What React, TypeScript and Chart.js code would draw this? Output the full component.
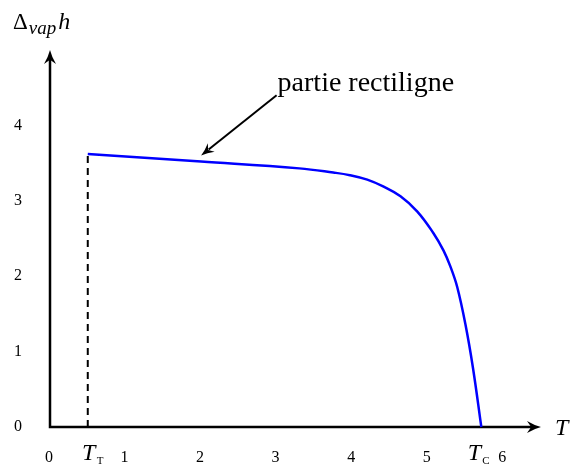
import React, { useEffect, useRef } from "react";
import { Chart, registerables } from "chart.js";

Chart.register(...registerables);

// Vaporisation enthalpy vs temperature, triple point to critical point
const curveT = [0.5, 2.0, 3.3, 3.75, 3.97, 4.2, 4.41, 4.64, 4.86, 5.07, 5.21, 5.3, 5.39, 5.5, 5.6, 5.71];
const curveH = [3.62, 3.52, 3.43, 3.375, 3.34, 3.28, 3.19, 3.06, 2.86, 2.58, 2.34, 2.13, 1.86, 1.36, 0.78, 0];

const tripleT = 0.5;
const tripleH = 3.62;
const criticalT = 5.71;

const xTicks = [0, 1, 2, 3, 4, 5, 6];
const yTicks = [0, 1, 2, 3, 4];

const xMax = 6.5;
const yMax = 5;

const annotationText = "partie rectiligne";
const annotationTail = { x: 3.0, y: 4.4 };
const annotationHead = { x: 2.0, y: 3.6 };

const SERIF = '"Liberation Serif", "DejaVu Serif", serif';

function arrowHead(ctx: CanvasRenderingContext2D, x: number, y: number, angle: number, len = 14, half = 6) {
  ctx.save();
  ctx.translate(x, y);
  ctx.rotate(angle);
  ctx.beginPath();
  ctx.moveTo(0, 0);
  ctx.quadraticCurveTo(-len * 0.5, -half * 0.3, -len, -half);
  ctx.lineTo(-len * 0.7, 0);
  ctx.lineTo(-len, half);
  ctx.quadraticCurveTo(-len * 0.5, half * 0.3, 0, 0);
  ctx.closePath();
  ctx.fill();
  ctx.restore();
}

const decorations = {
  id: "decorations",
  beforeDatasetsDraw(chart: any) {
    const ctx: CanvasRenderingContext2D = chart.ctx;
    const xs = chart.scales.x;
    const ys = chart.scales.y;
    const x0 = xs.getPixelForValue(0);
    const y0 = ys.getPixelForValue(0);
    const xEnd = xs.getPixelForValue(xMax);
    const yEnd = ys.getPixelForValue(yMax);
    ctx.save();
    ctx.strokeStyle = "#000";
    ctx.fillStyle = "#000";
    ctx.lineWidth = 2.5;
    ctx.beginPath();
    ctx.moveTo(x0, yEnd + 6);
    ctx.lineTo(x0, y0);
    ctx.lineTo(xEnd - 6, y0);
    ctx.stroke();
    arrowHead(ctx, xEnd, y0, 0);
    arrowHead(ctx, x0, yEnd, -Math.PI / 2);

    // tick labels
    ctx.font = `16px ${SERIF}`;
    ctx.textAlign = "center";
    ctx.textBaseline = "middle";
    xTicks.forEach((t) => ctx.fillText(String(t), xs.getPixelForValue(t) - 1, y0 + 31));
    yTicks.forEach((t) => ctx.fillText(String(t), x0 - 32, ys.getPixelForValue(t)));

    // axis titles
    ctx.textAlign = "left";
    ctx.textBaseline = "alphabetic";
    ctx.font = `italic 24px ${SERIF}`;
    ctx.fillText("T", xEnd + 14, y0 + 8);

    ctx.font = `23px ${SERIF}`;
    ctx.fillText("\u0394", 13, 29);
    const dw = ctx.measureText("\u0394").width;
    ctx.font = `italic 19px ${SERIF}`;
    ctx.fillText("vap", 14 + dw, 34);
    const vw = ctx.measureText("vap").width;
    ctx.font = `italic 24px ${SERIF}`;
    ctx.fillText("h", 15 + dw + vw + 1, 29);

    // T_T and T_C labels
    const sub = (px: number, s: string) => {
      ctx.font = `italic 24px ${SERIF}`;
      ctx.textAlign = "center";
      ctx.fillText("T", px, y0 + 33);
      ctx.font = `11px ${SERIF}`;
      ctx.textAlign = "left";
      ctx.fillText(s, px + 8, y0 + 37);
    };
    sub(xs.getPixelForValue(tripleT) + 1, "T");
    sub(xs.getPixelForValue(criticalT) - 7, "C");

    // annotation with arrow
    const tx = xs.getPixelForValue(annotationTail.x);
    const ty = ys.getPixelForValue(annotationTail.y);
    const hx = xs.getPixelForValue(annotationHead.x);
    const hy = ys.getPixelForValue(annotationHead.y);
    ctx.lineWidth = 2;
    ctx.beginPath();
    ctx.moveTo(tx, ty);
    ctx.lineTo(hx + (tx - hx) * 0.1, hy + (ty - hy) * 0.1);
    ctx.stroke();
    arrowHead(ctx, hx, hy, Math.atan2(hy - ty, hx - tx), 13, 5.5);
    ctx.font = `28px ${SERIF}`;
    ctx.textAlign = "left";
    ctx.fillText(annotationText, tx + 1, ty - 4);
    ctx.restore();
  },
};

export default function App() {
  const ref = useRef<HTMLCanvasElement>(null);
  useEffect(() => {
    if (!ref.current) return;
    const chart = new Chart(ref.current, {
      type: "scatter",
      data: {
        datasets: [
          {
            data: curveT.map((t, i) => ({ x: t, y: curveH[i] })),
            showLine: true,
            borderColor: "#0000ff",
            borderWidth: 2.5,
            pointRadius: 0,
            tension: 0.4,
            clip: false as any,
          },
          {
            data: [
              { x: tripleT, y: 0 },
              { x: tripleT, y: tripleH },
            ],
            showLine: true,
            borderColor: "#000",
            borderWidth: 2,
            borderDash: [7, 5],
            pointRadius: 0,
            clip: false as any,
          },
        ],
      },
      options: {
        responsive: false,
        animation: false,
        layout: { padding: { left: 50, right: 42, top: 50, bottom: 41 } },
        plugins: { legend: { display: false }, tooltip: { enabled: false } },
        scales: {
          x: { type: "linear", min: 0, max: xMax, display: false },
          y: { type: "linear", min: 0, max: yMax, display: false },
        },
      },
      plugins: [decorations],
    });
    return () => chart.destroy();
  }, []);
  return (
    <div style={{ position: "fixed", left: 0, top: 0, width: 583, height: 468, background: "#fff" }}>
      <canvas ref={ref} width={583} height={468} />
    </div>
  );
}
